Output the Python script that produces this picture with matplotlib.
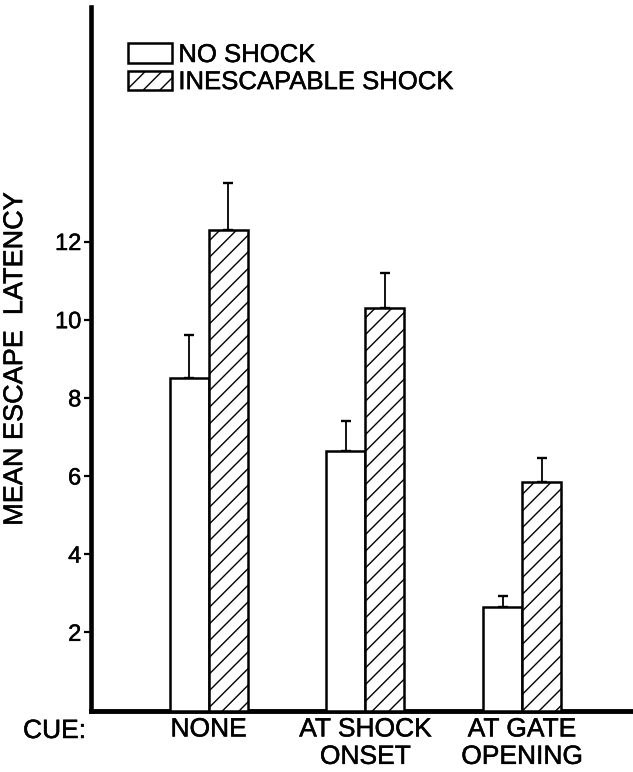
import matplotlib
matplotlib.use("Agg")
import matplotlib.pyplot as plt
import matplotlib.patches as mpatches
import matplotlib.patheffects as pe
from matplotlib.legend_handler import HandlerPatch
import numpy as np

# data
cues = ["NONE", "AT SHOCK\nONSET", "AT GATE\nOPENING"]
no_shock = [8.5, 6.65, 2.64]
no_shock_err = [1.1, 0.75, 0.3]
shock = [12.3, 10.3, 5.85]
shock_err = [1.2, 0.9, 0.6]
yticks = [2, 4, 6, 8, 10, 12]

plt.rcParams["font.family"] = ["Liberation Sans", "DejaVu Sans"]
plt.rcParams["hatch.linewidth"] = 1.0
plt.rcParams["hatch.color"] = "black"

# scanned type is a bit heavier than Liberation regular
thick = [pe.withStroke(linewidth=0.35, foreground="black")]

W, H = 633, 772
fig = plt.figure(figsize=(W / 100, H / 100), dpi=100)
ax = fig.add_axes([91 / W, 1 - 710.5 / H, 1 - 91 / W, (710.5 - 7) / H])

idx = np.arange(len(cues))
w = 0.249
ax.bar(idx - w / 2, no_shock, w, color="white", edgecolor="black",
       linewidth=1.8, zorder=3)
ax.bar(idx + w / 2, shock, w, color="white", edgecolor="black",
       linewidth=1.8, hatch="//", zorder=3)
zeros = [0] * len(cues)
for xs, ys, es in [(idx - w / 2, no_shock, no_shock_err),
                   (idx + w / 2, shock, shock_err)]:
    ax.errorbar(xs, ys, yerr=[zeros, es], fmt="none", ecolor="black",
                elinewidth=1.3, capsize=3.8, capthick=1.7, zorder=2)

ax.set_xlim(-0.75, 2.708)
ax.set_ylim(0, 18)
ax.set_yticks(yticks)
ax.set_yticklabels([str(t) for t in yticks], fontsize=17)
ax.set_xticks(idx)
ax.set_xticklabels(cues, fontsize=19, linespacing=1.18)
ax.tick_params(axis="x", length=0, pad=5)
ax.tick_params(axis="y", direction="out", length=5, width=1.6, pad=2)
for t in ax.get_xticklabels() + ax.get_yticklabels():
    t.set_path_effects(thick)

for s in ["top", "right"]:
    ax.spines[s].set_visible(False)
ax.spines["left"].set_linewidth(3.3)
ax.spines["bottom"].set_linewidth(3.5)

ax.set_ylabel("MEAN ESCAPE  LATENCY", fontsize=19.5, path_effects=thick)
ax.yaxis.set_label_coords(-0.116, 0.5)

fig.text(23 / W, 1 - 731 / H, "CUE:", fontsize=19, ha="left", va="center",
         path_effects=thick)


# legend keys are taller boxes than matplotlib's default
def tall_box(legend, orig_handle, xdescent, ydescent, width, height, fontsize):
    cy = -ydescent + height / 2
    return mpatches.Rectangle((-xdescent, cy - 6.9), width, 13.8)


keys = [mpatches.Patch(facecolor="white", edgecolor="black", linewidth=1.8),
        mpatches.Patch(facecolor="white", edgecolor="black", linewidth=1.8,
                       hatch="//")]
leg = ax.legend(keys, ["NO SHOCK", "INESCAPABLE SHOCK"], loc="upper left",
                bbox_to_anchor=(128 / W, 1 - 43 / H),
                bbox_transform=fig.transFigure,
                handler_map={mpatches.Patch: HandlerPatch(patch_func=tall_box)},
                frameon=False, borderpad=0, borderaxespad=0, fontsize=18.5,
                handlelength=1.71, handletextpad=0.25, labelspacing=0.12)
for t in leg.get_texts():
    t.set_path_effects(thick)

fig.savefig("out.png", dpi=100)
